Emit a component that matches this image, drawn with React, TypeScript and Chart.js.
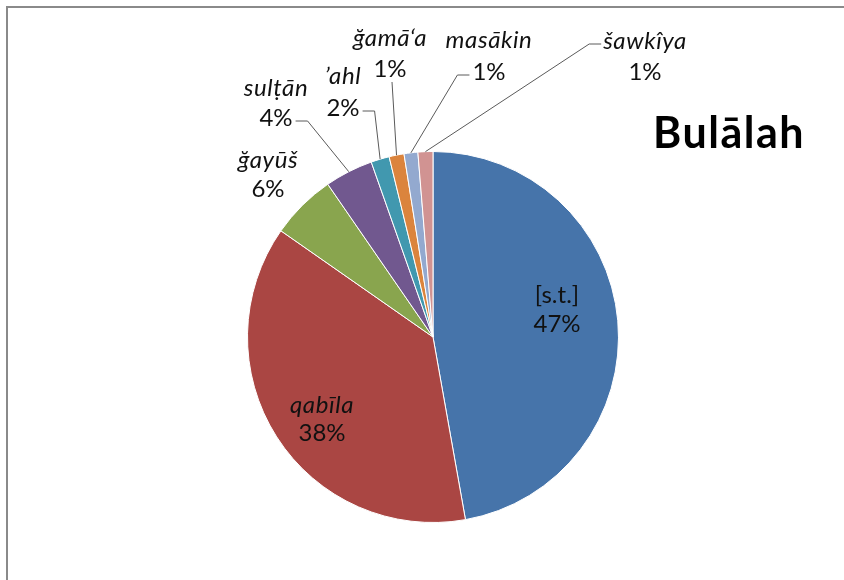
import React, { useEffect, useRef } from "react";
import { Chart, registerables } from "chart.js";

Chart.register(...registerables);

const categories = ["[s.t.]", "qabīla", "ğayūš", "sulṭān", "’ahl", "ğamā‘a", "masākin", "šawkîya"];
const values = [47.2, 37.5, 5.7, 4.2, 1.6, 1.3, 1.2, 1.3];
const percentLabels = ["47%", "38%", "6%", "4%", "2%", "1%", "1%", "1%"];
const colors = ["#4674AA", "#AA4643", "#89A54E", "#71588F", "#4198AF", "#DB843D", "#93A9CF", "#D19392"];
const italicNames = [false, true, true, true, true, true, true, true];
const chartTitle = "Bulālah";

// label layout: text block position and leader style
type Leader = { from: "none" | "line2-right" | "line2-left" | "line1-left" | "bottom"; elbow: number };
const labelLayout: { x: number; y1: number; y2: number; leader: Leader }[] = [
  { x: 557, y1: 295, y2: 324, leader: { from: "none", elbow: 0 } },
  { x: 322, y1: 405, y2: 433, leader: { from: "none", elbow: 0 } },
  { x: 268, y1: 160, y2: 189, leader: { from: "none", elbow: 0 } },
  { x: 276, y1: 88, y2: 118, leader: { from: "line2-right", elbow: 12 } },
  { x: 343, y1: 76, y2: 108, leader: { from: "line2-right", elbow: 12 } },
  { x: 390, y1: 38, y2: 69, leader: { from: "bottom", elbow: 0 } },
  { x: 489, y1: 40, y2: 72, leader: { from: "line2-left", elbow: 12 } },
  { x: 645, y1: 41, y2: 72, leader: { from: "line1-left", elbow: 12 } },
];

const FONT = "Lato, 'Liberation Sans', sans-serif";
const FS = 24;

const labelPlugin = {
  id: "pieLabels",
  afterDraw(chart: any) {
    const ctx = chart.ctx as CanvasRenderingContext2D & { letterSpacing?: string };
    // frame
    ctx.save();
    ctx.strokeStyle = "#8a8a8a";
    ctx.lineWidth = 2;
    ctx.beginPath();
    ctx.moveTo(7, 580);
    ctx.lineTo(7, 7);
    ctx.lineTo(844, 7);
    ctx.stroke();
    ctx.restore();

    const meta = chart.getDatasetMeta(0);
    ctx.save();
    ctx.textAlign = "center";
    ctx.textBaseline = "middle";
    ctx.fillStyle = "#111";
    meta.data.forEach((arc: any, i: number) => {
      const L = labelLayout[i];
      const nameFont = `${italicNames[i] ? "italic " : ""}${FS}px ${FONT}`;
      const pctFont = `${FS}px ${FONT}`;
      ctx.letterSpacing = italicNames[i] ? "0.6px" : "0px";
      ctx.font = nameFont;
      ctx.fillText(categories[i], L.x, L.y1);
      const w1 = ctx.measureText(categories[i]).width;
      ctx.letterSpacing = "0px";
      ctx.font = pctFont;
      ctx.fillText(percentLabels[i], L.x, L.y2);
      const w2 = ctx.measureText(percentLabels[i]).width;

      if (L.leader.from === "none") return;
      const p = arc.getProps(["x", "y", "startAngle", "endAngle", "outerRadius"], true);
      const mid = (p.startAngle + p.endAngle) / 2;
      const ax = p.x + Math.cos(mid) * p.outerRadius;
      const ay = p.y + Math.sin(mid) * p.outerRadius;
      let sx = 0, sy = 0, ex = 0, ey = 0;
      if (L.leader.from === "line2-right") {
        sx = L.x + w2 / 2 + 3; sy = L.y2 + 3;
        ex = sx + L.leader.elbow; ey = sy;
      } else if (L.leader.from === "line2-left") {
        sx = L.x - w2 / 2 - 3; sy = L.y2 + 3;
        ex = sx - L.leader.elbow; ey = sy;
      } else if (L.leader.from === "line1-left") {
        sx = L.x - w1 / 2 - 2; sy = L.y1 + 3;
        ex = sx - L.leader.elbow; ey = sy;
      } else {
        sx = L.x + 2; sy = L.y2 + 13;
        ex = sx; ey = sy;
      }
      ctx.strokeStyle = "#5a5a5a";
      ctx.lineWidth = 1;
      ctx.beginPath();
      ctx.moveTo(sx, sy);
      ctx.lineTo(ex, ey);
      ctx.lineTo(ax, ay);
      ctx.stroke();
    });

    // title
    ctx.font = `bold 43px ${FONT}`;
    ctx.letterSpacing = "1.5px";
    ctx.fillStyle = "#000";
    ctx.textAlign = "center";
    ctx.textBaseline = "middle";
    ctx.fillText(chartTitle, 729, 134);
    ctx.letterSpacing = "0px";
    ctx.restore();
  },
};

export default function App() {
  const ref = useRef<HTMLCanvasElement | null>(null);
  useEffect(() => {
    if (!ref.current) return;
    const chart = new Chart(ref.current, {
      type: "pie",
      data: {
        labels: categories,
        datasets: [
          {
            data: values,
            backgroundColor: colors,
            borderColor: "#ffffff",
            borderWidth: 1,
          },
        ],
      },
      options: {
        responsive: false,
        animation: false,
        devicePixelRatio: 1,
        layout: { padding: { left: 247, right: 225, top: 151, bottom: 57 } },
        plugins: {
          legend: { display: false },
          tooltip: { enabled: false },
        },
      },
      plugins: [labelPlugin],
    });
    return () => chart.destroy();
  }, []);
  return (
    <div style={{ position: "absolute", left: 0, top: 0, width: 844, height: 580, background: "#fff" }}>
      <canvas ref={ref} width={844} height={580} style={{ width: 844, height: 580, display: "block" }} />
    </div>
  );
}
